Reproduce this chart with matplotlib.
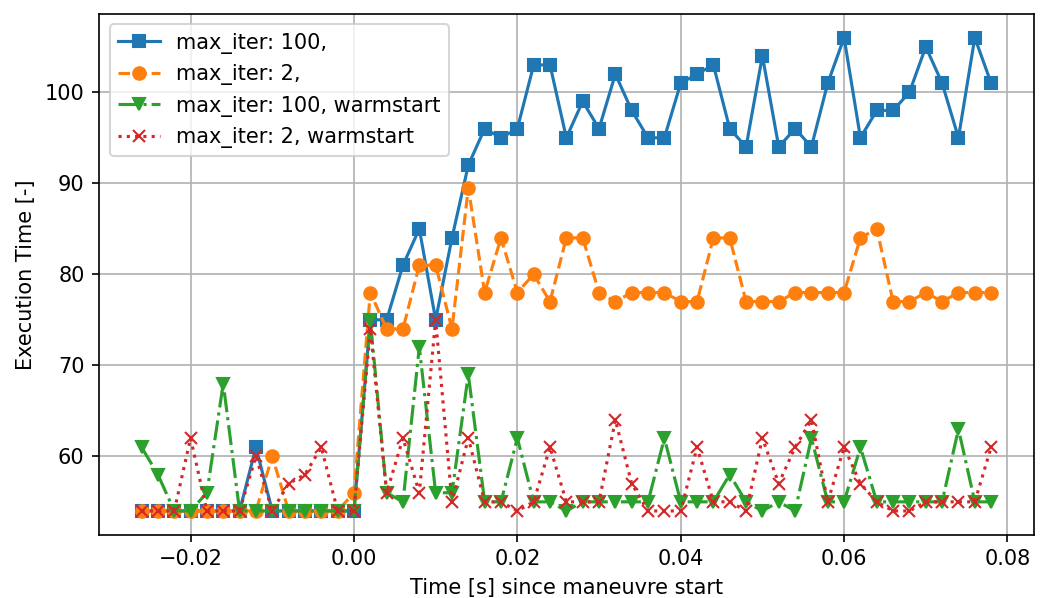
"""Execution time of the solver around the maneuvre start, cold vs warm start."""

import matplotlib

matplotlib.use("Agg")
import matplotlib.pyplot as plt
import numpy as np

# time since maneuvre start [s], one sample every 2 ms
time_s = np.round(np.arange(-0.026, 0.0781, 0.002), 3)

iter100 = [54, 54, 54, 54, 54, 54, 54, 61, 54, 54, 54, 54, 54, 54,
           75, 75, 81, 85, 75, 84, 92, 96, 95, 96, 103, 103, 95, 99, 96, 102,
           98, 95, 95, 101, 102, 103, 96, 94, 104, 94, 96, 94, 101, 106, 95,
           98, 98, 100, 105, 101, 95, 106, 101]
iter2 = [54, 54, 54, 54, 54, 54, 54, 54, 60, 54, 54, 54, 54, 56,
         78, 74, 74, 81, 81, 74, 89.5, 78, 84, 78, 80, 77, 84, 84, 78, 77,
         78, 78, 78, 77, 77, 84, 84, 77, 77, 77, 78, 78, 78, 78, 84,
         85, 77, 77, 78, 77, 78, 78, 78]
iter100_warm = [61, 58, 54, 54, 56, 68, 54, 54, 54, 54, 54, 54, 54, 54,
                75, 56, 55, 72, 56, 56, 69, 55, 55, 62, 55, 55, 54, 55, 55, 55,
                55, 55, 62, 55, 55, 55, 58, 55, 54, 55, 54, 62, 55, 55, 61,
                55, 55, 55, 55, 55, 63, 55, 55]
iter2_warm = [54, 54, 54, 62, 54, 54, 54, 60, 54, 57, 58, 61, 54, 54,
              74, 56, 62, 56, 75, 55, 62, 55, 55, 54, 55, 61, 55, 55, 55, 64,
              57, 54, 54, 54, 61, 55, 55, 54, 62, 57, 61, 64, 55, 61, 57,
              55, 54, 54, 55, 55, 55, 55, 61]

series = [
    (iter100, "max_iter: 100,", "-", "s"),
    (iter2, "max_iter: 2,", "--", "o"),
    (iter100_warm, "max_iter: 100, warmstart", "-.", "v"),
    (iter2_warm, "max_iter: 2, warmstart", ":", "x"),
]

fig, ax = plt.subplots(figsize=(1043 / 150, 598 / 150), dpi=150)
for values, label, style, marker in series:
    ax.plot(time_s, values, linestyle=style, marker=marker, label=label)

ax.set_xlabel("Time [s] since maneuvre start")
ax.set_ylabel("Execution Time [-]")
ax.grid(True)
ax.legend(loc="upper left")
fig.subplots_adjust(left=0.095, right=0.991, top=0.9766, bottom=0.106)
fig.savefig("out.png", dpi=150)
